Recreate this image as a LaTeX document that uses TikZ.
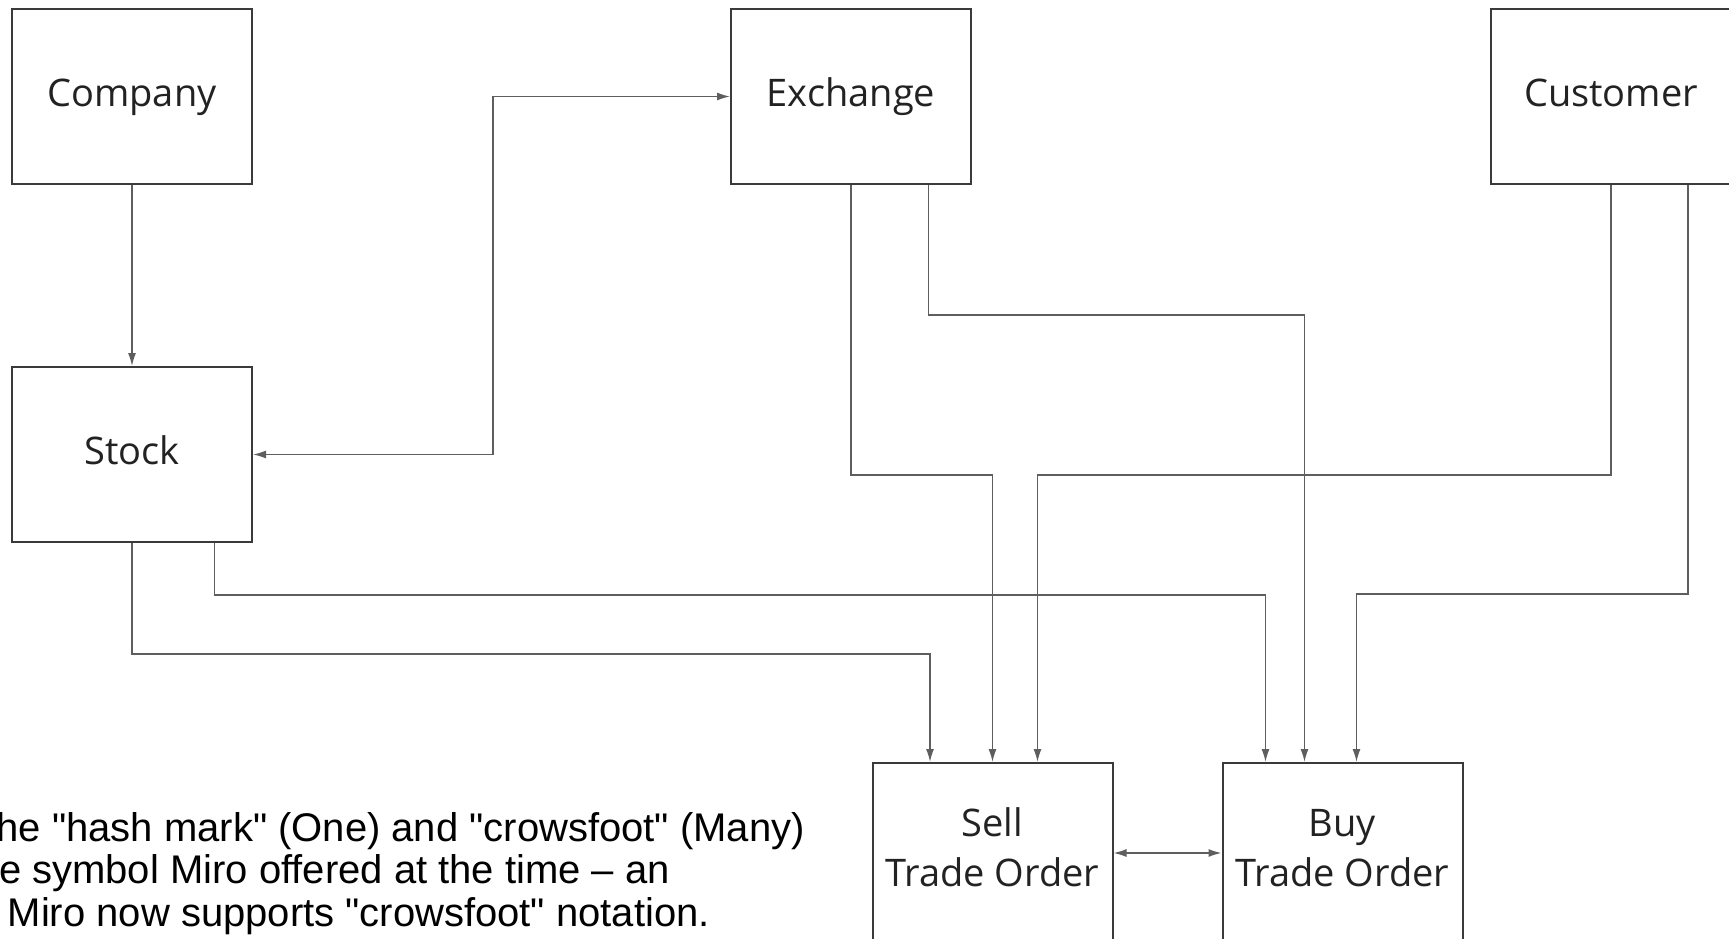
\documentclass[tikz,border=0pt]{standalone}
\usepackage{fontspec}
\setmainfont{Open Sans}
\newfontfamily\notefont{Liberation Sans}
\usetikzlibrary{arrows.meta}
\definecolor{boxline}{HTML}{3A3A3A}
\definecolor{connline}{HTML}{5E5E5E}
\definecolor{txt}{HTML}{222222}
\begin{document}
\begin{tikzpicture}[x=1pt,y=-1pt,
  entity/.style={draw=boxline, line width=2pt, fill=white, minimum width=240pt,
    minimum height=175pt, inner sep=0pt, font=\fontsize{38}{50}\selectfont,
    text=txt, text height=29.3pt, text depth=8.7pt, align=center},
  entity2/.style={entity, minimum height=180pt, text height=74.7pt},
  tip/.tip={Latex[length=13pt,width=8pt]},
  conn/.style={draw=connline, line width=1.4pt, -tip},
  conn2/.style={draw=connline, line width=1.4pt, tip-tip},
  note/.style={inner sep=0pt, font=\notefont\fontsize{40}{42}\selectfont, text=black},
]
\useasboundingbox (0,0) rectangle (1729,938);

\node[entity] (company) at (132,96.5) {Company};
\node[entity] (stock) at (132,454.5) {Stock};
\node[entity] (exchange) at (851,96.5) {Exchange};
\node[entity] (customer) at (1611,96.5) {Customer};
\node[entity2] (sell) at (992.5,853) {Sell\\Trade Order};
\node[entity2] (buy) at (1342.5,853) {Buy\\Trade Order};

\draw[conn] (company) -- (stock);
\draw[conn2] (stock.east) -- ++(240,0) |- (exchange.west);
\draw[conn] (exchange.south) -- ++(0,290) -| (sell.north);
\draw[conn] ([xshift=77.5pt]exchange.south) -- ++(0,130) -| ([xshift=-38pt]buy.north);
\draw[conn] (customer.south) -- ++(0,290) -| ([xshift=45pt]sell.north);
\draw[conn] ([xshift=77pt]customer.south) -- ++(0,409) -| ([xshift=14pt]buy.north);
\draw[conn] (stock.south) -- ++(0,111) -| ([xshift=-62.5pt]sell.north);
\draw[conn] ([xshift=82.5pt]stock.south) -- ++(0,52) -| ([xshift=-77pt]buy.north);
\draw[conn2] (sell.east) -- (buy.west);

\node[note, anchor=base east] (n1) at (805,841) {he "hash mark" (One) and "crowsfoot" (Many)};
\node[note, anchor=base east] (n2) at (670,883) {e symbol Miro offered at the time – an};
\node[note, anchor=base east] (n3) at (710,926) {Miro now supports "crowsfoot" notation.};
\end{tikzpicture}
\end{document}
